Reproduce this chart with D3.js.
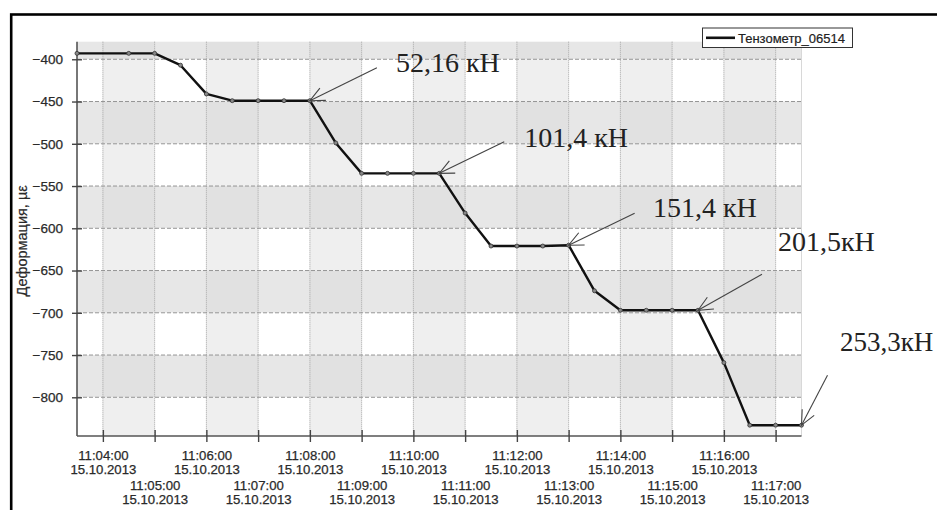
<!DOCTYPE html>
<html><head><meta charset="utf-8">
<script src="https://cdn.jsdelivr.net/npm/d3@7"></script>
<style>html,body{margin:0;padding:0;background:#fff;overflow:hidden}</style>
</head><body>
<svg id="c" width="937" height="510"></svg>
<script>
// ---- data ----
const seriesName = "Тензометр_06514";
const yTitle = "Деформация, µε";
const times = ["11:03:30","11:04:30","11:05:00","11:05:30","11:06:00","11:06:30","11:07:00","11:07:30","11:08:00","11:08:30","11:09:00","11:09:30","11:10:00","11:10:30","11:11:00","11:11:30","11:12:00","11:12:30","11:13:00","11:13:30","11:14:00","11:14:30","11:15:00","11:15:30","11:16:00","11:16:30","11:17:00","11:17:30"];
const values = [-393,-393,-393,-407,-441,-449,-449,-449,-449,-499,-535,-535,-535,-535,-582,-621,-621,-621,-620,-674,-697,-697,-697,-697,-759,-833,-833,-833];
const yTicks = [-400,-450,-500,-550,-600,-650,-700,-750,-800];
const xTickTimes = ["11:04:00","11:05:00","11:06:00","11:07:00","11:08:00","11:09:00","11:10:00","11:11:00","11:12:00","11:13:00","11:14:00","11:15:00","11:16:00","11:17:00"];
const dateStr = "2013-10-15";
const annLabels = ["52,16 кН","101,4 кН","151,4 кН","201,5кН","253,3кН"];
const annTimes = ["11:08:00","11:10:30","11:13:00","11:15:30","11:17:30"];

// ---- layout ----
const parse = d3.timeParse("%Y-%m-%d %H:%M:%S");
const T = s => parse(dateStr + " " + s);
const data = times.map((t,i)=>({t:T(t), v:values[i]}));
const L = 77, R = 801.5, TOP = 41.7, BOT = 436;
const x = d3.scaleTime().domain([T("11:03:30"), T("11:17:30")]).range([L, R]);
const y = d3.scaleLinear().domain([-845.8, -379.2]).range([BOT, TOP]);
const svg = d3.select("#c");
const SANS = "Arial, 'Liberation Sans', sans-serif";

// background cells (checkerboard of row bands and column bands)
const rowEdges = [y.domain()[1], ...yTicks, y.domain()[0]];
const xt = xTickTimes.map(T);
const colEdges = [x.domain()[0], ...xt, x.domain()[1]];
const g = svg.append("g");
for (let i = 0; i < rowEdges.length-1; i++) {
  for (let j = 0; j < colEdges.length-1; j++) {
    const rg = i % 2 === 0, cg = j % 2 === 1;
    const fill = rg ? (cg ? "#e1e1e1" : "#e7e7e7") : (cg ? "#efefef" : "#ffffff");
    g.append("rect")
      .attr("x", x(colEdges[j])).attr("width", x(colEdges[j+1]) - x(colEdges[j]))
      .attr("y", y(rowEdges[i])).attr("height", y(rowEdges[i+1]) - y(rowEdges[i]))
      .attr("fill", fill);
  }
}
// right border of plot
svg.append("line").attr("x1", R).attr("x2", R).attr("y1", TOP).attr("y2", BOT)
  .attr("stroke", "#d8d8d8");

// grid
svg.append("g").selectAll("line").data(xt).join("line")
  .attr("x1", d=>x(d)).attr("x2", d=>x(d)).attr("y1", TOP).attr("y2", BOT)
  .attr("stroke", "#a0a0a0").attr("stroke-dasharray", "1,1");
svg.append("g").selectAll("line").data(yTicks).join("line")
  .attr("x1", L).attr("x2", R).attr("y1", d=>y(d)).attr("y2", d=>y(d))
  .attr("stroke", "#959595").attr("stroke-dasharray", "4,2");

// axes
const yAxis = d3.axisLeft(y).tickValues(yTicks).tickSizeInner(5).tickSizeOuter(0).tickPadding(9);
const ya = svg.append("g").attr("transform", `translate(${L},0)`).call(yAxis);
ya.select(".domain").attr("d", `M0,${TOP}V${BOT}`).attr("stroke", "#555").attr("stroke-width", 1.6);
ya.selectAll(".tick line").attr("x1", 5).attr("x2", -5).attr("stroke", "#444").attr("stroke-width", 1.4);
ya.selectAll(".tick text").attr("font-family", SANS)
  .attr("font-size", 13.5).attr("fill", "#2a2a2a").attr("stroke", "#2a2a2a").attr("stroke-width", 0.25);

const xAxis = d3.axisBottom(x).tickValues(xt).tickSizeInner(6).tickSizeOuter(0).tickFormat("");
const xa = svg.append("g").attr("transform", `translate(0,${BOT})`).call(xAxis);
xa.select(".domain").attr("d", `M${L},0H${R}`).attr("stroke", "#555").attr("stroke-width", 1.6);
xa.selectAll(".tick line").attr("y1", -6).attr("y2", 6).attr("stroke", "#444").attr("stroke-width", 1.4);
const fT = d3.timeFormat("%H:%M:%S"), fD = d3.timeFormat("%d.%m.%Y");
xa.selectAll(".tick").each(function(d,i){
  const base = (i % 2 === 0) ? 23.8 : 54;
  const t = d3.select(this).append("text").attr("fill", "#2a2a2a")
    .attr("stroke", "#2a2a2a").attr("stroke-width", 0.25)
    .attr("font-family", SANS).attr("font-size", 13.2)
    .attr("text-anchor", "middle");
  t.append("tspan").attr("x", 0).attr("y", base).text(fT(d));
  t.append("tspan").attr("x", 0).attr("y", base+14.4).text(fD(d));
});

// y title
svg.append("text").attr("transform", `translate(26.5,${(TOP+BOT)/2+2}) rotate(-90)`)
  .attr("text-anchor", "middle").attr("font-family", SANS)
  .attr("font-size", 14.5).attr("fill", "#2a2a2a").attr("stroke", "#2a2a2a").attr("stroke-width", 0.2)
  .text(yTitle);

// series line
svg.append("path").datum(data)
  .attr("d", d3.line().x(d=>x(d.t)).y(d=>y(d.v)))
  .attr("fill", "none").attr("stroke", "#111").attr("stroke-width", 2.4).attr("stroke-linejoin", "round");
svg.append("g").selectAll("circle").data(data).join("circle")
  .attr("cx", d=>x(d.t)).attr("cy", d=>y(d.v)).attr("r", 2)
  .attr("fill", "#888").attr("stroke", "#333").attr("stroke-width", 0.8);

// annotations
const arrowOff = [[67,-33],[65,-31.5],[66,-32],[64,-36],[26,-50]];
const textOff = [[19,4.5],[20,4.7],[18.4,4],[16,-23.6],[12.5,-24]];
annTimes.forEach((ts,i)=>{
  const d = data.find(p => +p.t === +T(ts));
  const ex = x(d.t), ey = y(d.v);
  const sx = ex + arrowOff[i][0], sy = ey + arrowOff[i][1];
  const ang = Math.atan2(sy-ey, sx-ex), hl = 16, ha = 25*Math.PI/180;
  const a = svg.append("g").attr("stroke", "#444").attr("stroke-width", 1.1).attr("fill", "none");
  a.append("line").attr("x1", sx).attr("y1", sy).attr("x2", ex).attr("y2", ey);
  a.append("path").attr("d",
    `M${ex+hl*Math.cos(ang+ha)},${ey+hl*Math.sin(ang+ha)}L${ex},${ey}L${ex+hl*Math.cos(ang-ha)},${ey+hl*Math.sin(ang-ha)}`);
  svg.append("text").attr("x", sx+textOff[i][0]).attr("y", sy+textOff[i][1])
    .attr("font-family", "'Times New Roman', 'Liberation Serif', serif").attr("font-size", i === 4 ? 27 : 28)
    .attr("fill", "#222").text(annLabels[i]);
});

// legend
const lg = svg.append("g");
lg.append("rect").attr("x", 702.5).attr("y", 28).attr("width", 150).attr("height", 19.5)
  .attr("fill", "#fff").attr("stroke", "#333").attr("stroke-width", 1);
lg.append("line").attr("x1", 706).attr("x2", 735).attr("y1", 37.8).attr("y2", 37.8)
  .attr("stroke", "#111").attr("stroke-width", 2.6);
lg.append("text").attr("x", 738).attr("y", 42.5).attr("font-family", SANS)
  .attr("font-size", 13).attr("fill", "#222").attr("stroke", "#222").attr("stroke-width", 0.2).text(seriesName);

// outer frame
svg.append("rect").attr("x", 11.2).attr("y", 14.5).attr("width", 1000).attr("height", 600)
  .attr("fill", "none").attr("stroke", "#000").attr("stroke-width", 2.6);
</script>
</body></html>
